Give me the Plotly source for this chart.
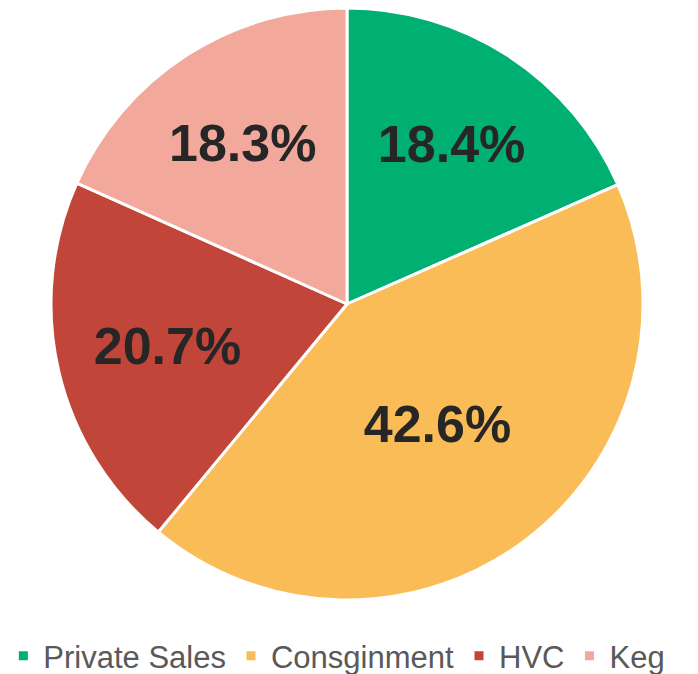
import plotly.graph_objects as go

labels = ["Private Sales", "Consginment", "HVC", "Keg"]
values = [18.4, 42.6, 20.7, 18.3]
colors = ["#00AF72", "#F9BC57", "#C2453A", "#F2A89B"]

fig = go.Figure(
    go.Pie(
        labels=labels,
        values=values,
        sort=False,
        direction="clockwise",
        rotation=0,
        marker=dict(colors=colors, line=dict(color="white", width=3)),
        texttemplate="%{percent:.1%}",
        textposition="inside",
        insidetextorientation="horizontal",
        textfont=dict(family="Liberation Sans", size=52, color="#262626", weight="bold"),
        hoverinfo="label+percent",
    )
)

fig.update_layout(
    width=690,
    height=666,
    margin=dict(l=0, r=12, t=0, b=74, autoexpand=False),
    paper_bgcolor="white",
    plot_bgcolor="white",
    showlegend=True,
    legend=dict(
        orientation="h",
        x=0.485,
        xanchor="center",
        y=-0.049,
        yanchor="top",
        font=dict(family="Liberation Sans", size=31, color="#595959"),
    ),
    uniformtext=dict(minsize=52, mode="show"),
)

fig.write_html("out.html")
